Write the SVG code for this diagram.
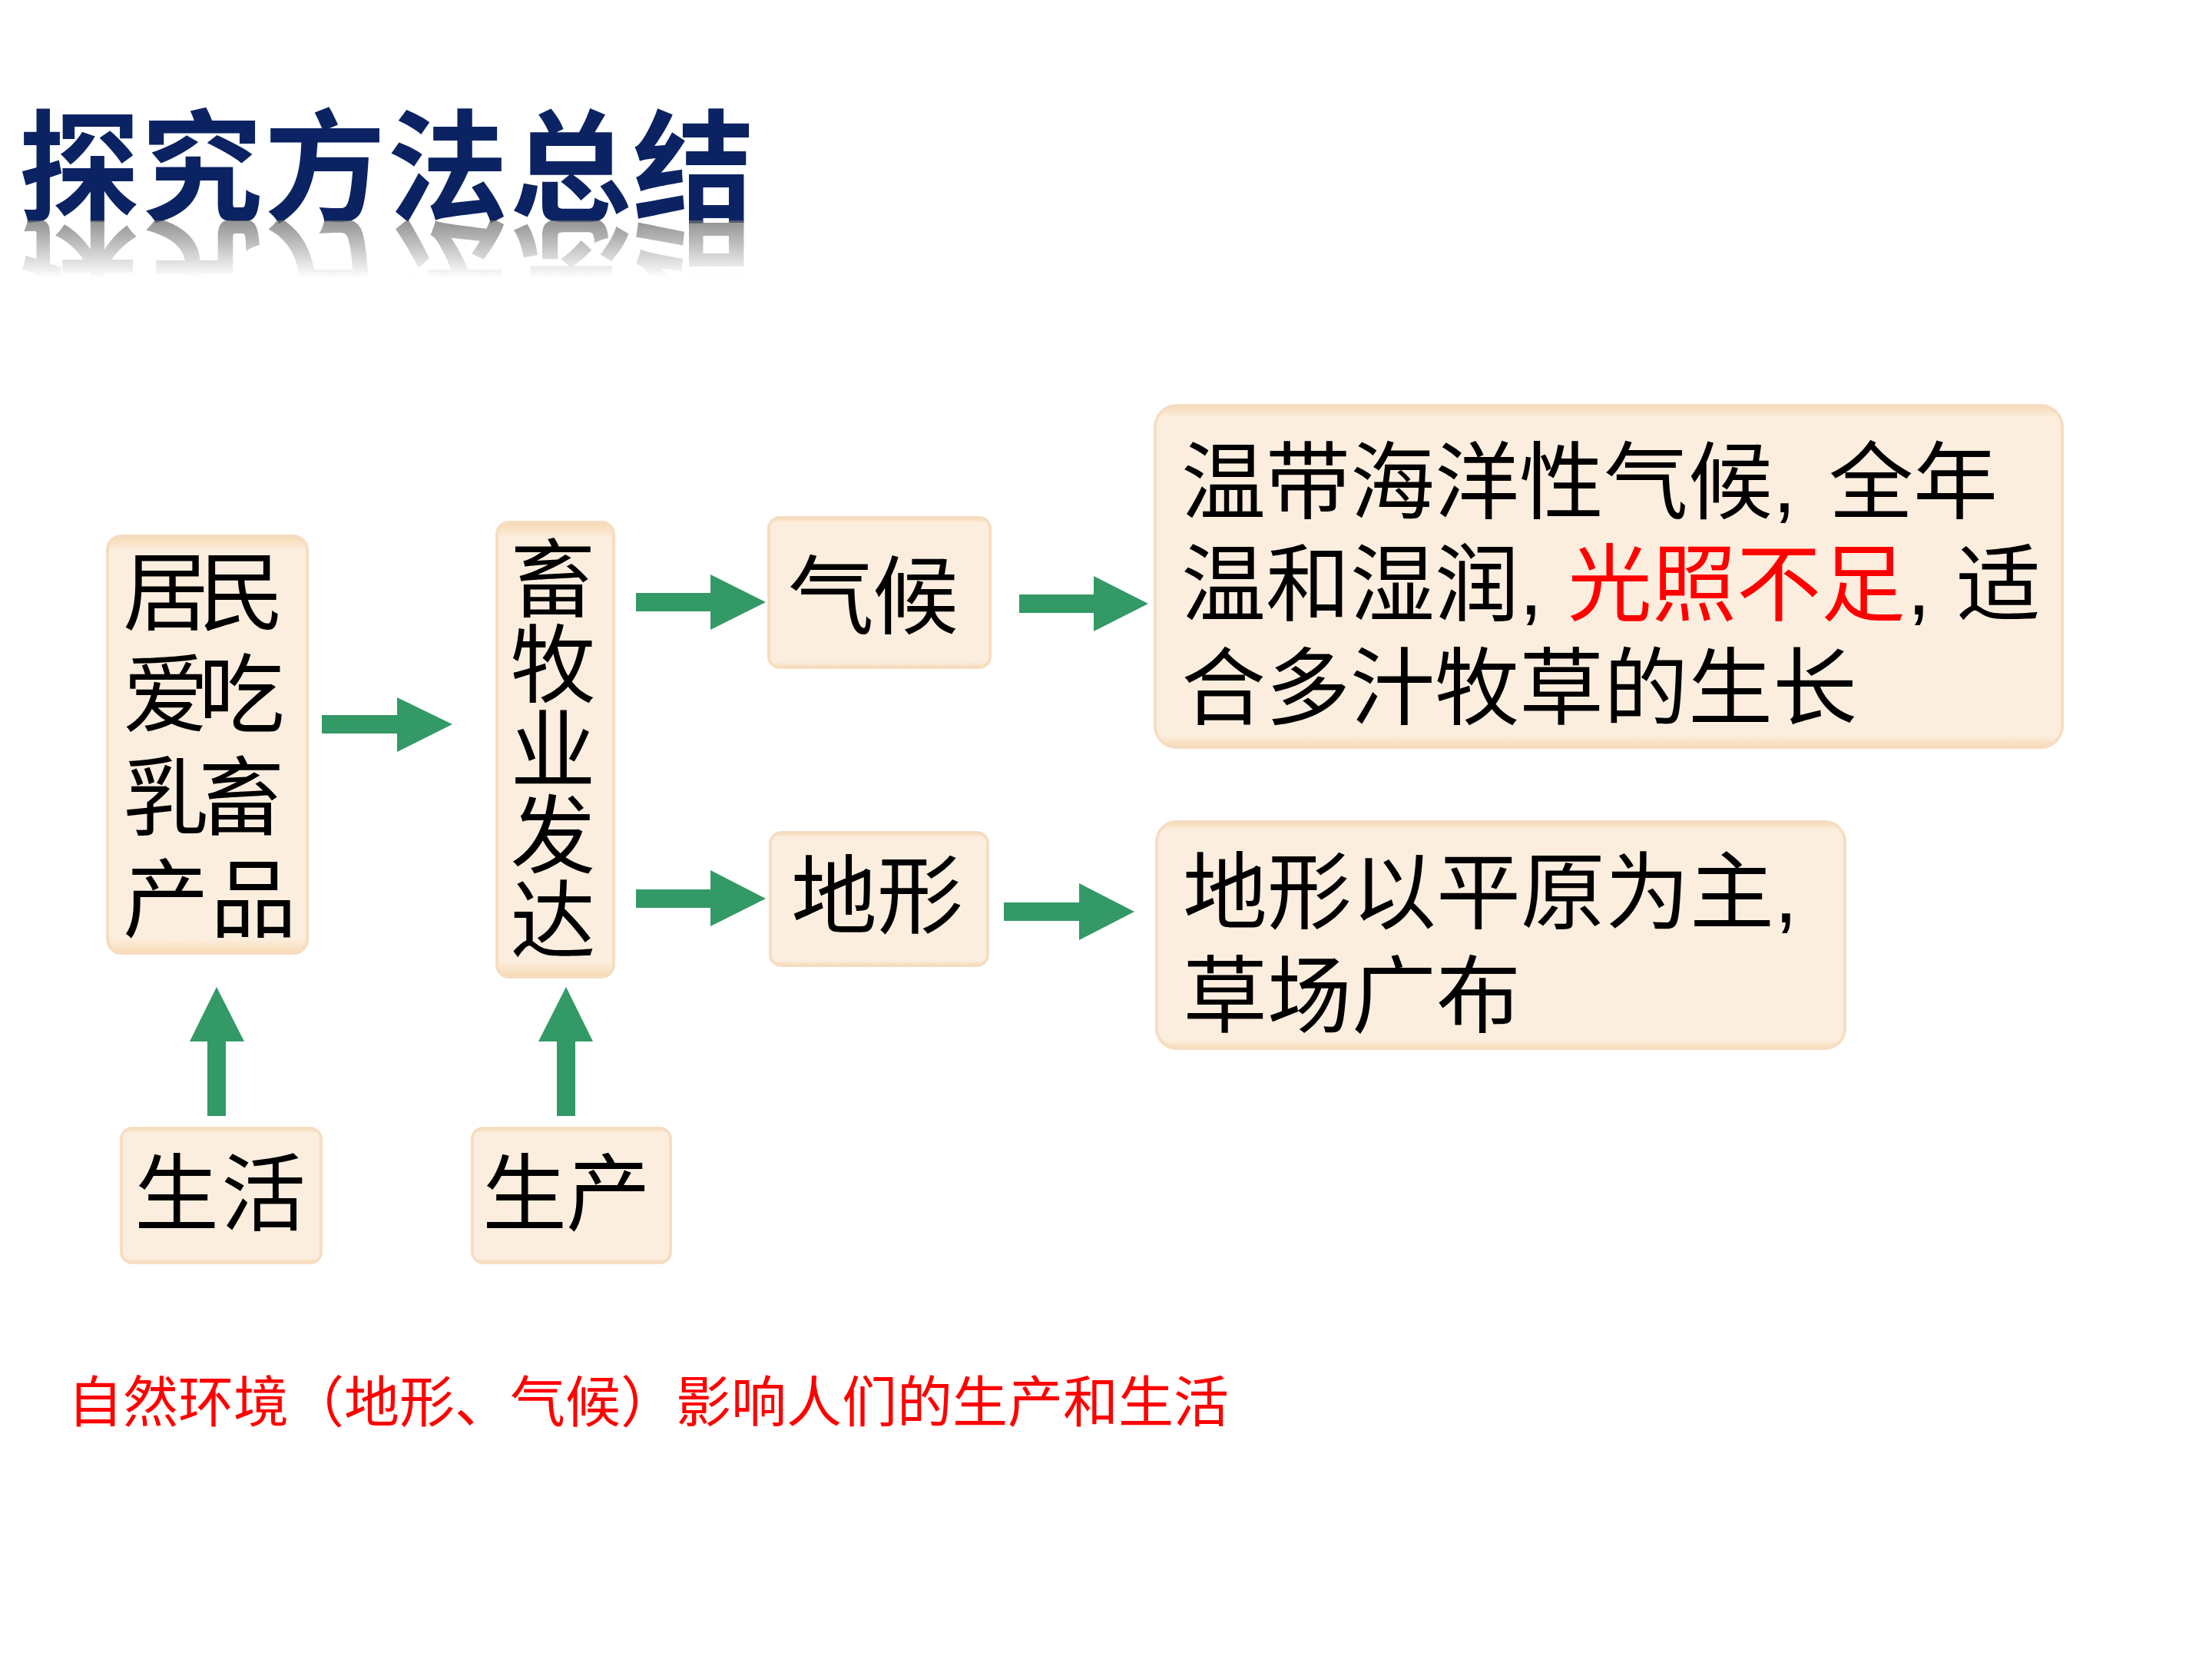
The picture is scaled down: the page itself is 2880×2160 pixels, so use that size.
<svg xmlns="http://www.w3.org/2000/svg" xmlns:xlink="http://www.w3.org/1999/xlink" width="2880" height="2160" viewBox="0 0 2880 2160">
  <style>
    .box { fill: url(#boxGrad); stroke: #F6DDC2; stroke-width: 4; }
    .t { font-family: "Liberation Sans", "Noto Sans CJK SC", sans-serif; fill: #000000; }
    .big { font-size: 112px; }
    .vert { font-family: "Noto Sans CJK SC", sans-serif; font-size: 111px; writing-mode: vertical-rl; text-orientation: upright; }
    .mid { font-size: 110px; }
    .red { fill: #FF0000; }
    .arrow { fill: #339966; }
    .title { font-family: "Noto Sans CJK SC", "Noto Sans", sans-serif; font-size: 158px; font-weight: bold; letter-spacing: 2px; }
  </style>
  <defs>
    <linearGradient id="boxGrad" x1="0" y1="0" x2="0" y2="1">
      <stop offset="0" stop-color="#F7D9B3"/>
      <stop offset="0.035" stop-color="#FCEEDF"/>
      <stop offset="0.965" stop-color="#FCEEDF"/>
      <stop offset="1" stop-color="#F7D9B3"/>
    </linearGradient>
    <linearGradient id="refGrad" gradientUnits="userSpaceOnUse" x1="0" y1="287" x2="0" y2="362">
      <stop offset="0" stop-color="#ffffff" stop-opacity="0.75"/>
      <stop offset="1" stop-color="#ffffff" stop-opacity="0"/>
    </linearGradient>
    <mask id="refMask" maskUnits="userSpaceOnUse" x="0" y="280" width="1100" height="100">
      <rect x="0" y="287" width="1100" height="80" fill="url(#refGrad)"/>
    </mask>
  </defs>
  <rect x="0" y="0" width="2880" height="2160" fill="#ffffff"/>

  <g id="title">
    <g fill="#0B2362">
      <text id="titleText" class="title" x="24" y="276">探究方法总结</text>
    </g>
    <g mask="url(#refMask)">
      <use xlink:href="#titleText" href="#titleText" fill="#6E6E6E" transform="translate(0,574) scale(1,-1)"/>
    </g>
  </g>

  <g id="connectors">
    <polygon class="arrow" points="419,931 517,931 517,908 589,943 517,979 517,955 419,955"/>
    <polygon class="arrow" points="828,772 925,772 925,748 997,784 925,820 925,796 828,796"/>
    <polygon class="arrow" points="1327,774 1424,774 1424,750 1495,786 1424,822 1424,798 1327,798"/>
    <polygon class="arrow" points="828,1158 925,1158 925,1133 997,1170 925,1206 925,1182 828,1182"/>
    <polygon class="arrow" points="1307,1175 1405,1175 1405,1150 1477,1187 1405,1224 1405,1199 1307,1199"/>
    <polygon class="arrow" points="270,1453 270,1356 247,1356 282,1285 318,1356 294,1356 294,1453"/>
    <polygon class="arrow" points="725,1453 725,1356 701,1356 737,1285 772,1356 749,1356 749,1453"/>
  </g>

  <g id="node-jumin">
    <rect class="box" x="140" y="698" width="260" height="543" rx="18"/>
    <text class="t big" text-anchor="middle">
      <tspan x="216 330" y="812">居民</tspan>
      <tspan x="216 330" y="945">爱吃</tspan>
      <tspan x="216 330" y="1079">乳畜</tspan>
      <tspan x="216 330" y="1212">产品</tspan>
    </text>
  </g>

  <g id="node-xumu">
    <rect class="box" x="647" y="680" width="152" height="592" rx="16"/>
    <text class="vert" x="720" y="697" fill="#000000">畜牧业发达</text>
  </g>

  <g id="node-qihou">
    <rect class="box" x="1001" y="674" width="288" height="195" rx="14"/>
    <text class="t big" text-anchor="middle"><tspan x="1082 1192" y="817">气候</tspan></text>
  </g>

  <g id="node-dixing">
    <rect class="box" x="1003" y="1084" width="283" height="173" rx="14"/>
    <text class="t big" text-anchor="middle"><tspan x="1086 1198" y="1207">地形</tspan></text>
  </g>

  <g id="node-shenghuo">
    <rect class="box" x="158" y="1469" width="260" height="175" rx="14"/>
    <text class="t mid" text-anchor="middle"><tspan x="230 343" y="1594">生活</tspan></text>
  </g>

  <g id="node-shengchan">
    <rect class="box" x="615" y="1469" width="258" height="175" rx="14"/>
    <text class="t mid" text-anchor="middle"><tspan x="683 792" y="1594">生产</tspan></text>
  </g>

  <g id="node-climate-desc">
    <rect class="box" x="1504" y="528" width="1181" height="445" rx="28"/>
    <text class="t mid" y="667"><tspan x="1538">温带海洋性气候,</tspan><tspan x="2381">全年</tspan></text>
    <text class="t mid" y="800"><tspan x="1538">温和湿润,</tspan><tspan x="2041" class="red">光照不足</tspan><tspan x="2483">,</tspan><tspan x="2547">适</tspan></text>
    <text class="t mid" x="1538" y="935">合多汁牧草的生长</text>
  </g>

  <g id="node-terrain-desc">
    <rect class="box" x="1506" y="1070" width="896" height="295" rx="26"/>
    <text class="t mid" x="1540" y="1201">地形以平原为主,</text>
    <text class="t mid" x="1540" y="1336">草场广布</text>
  </g>

  <g id="note">
    <text class="t red" x="88" y="1851" font-size="72">自然环境（地形、气候）影响人们的生产和生活</text>
  </g>
</svg>
